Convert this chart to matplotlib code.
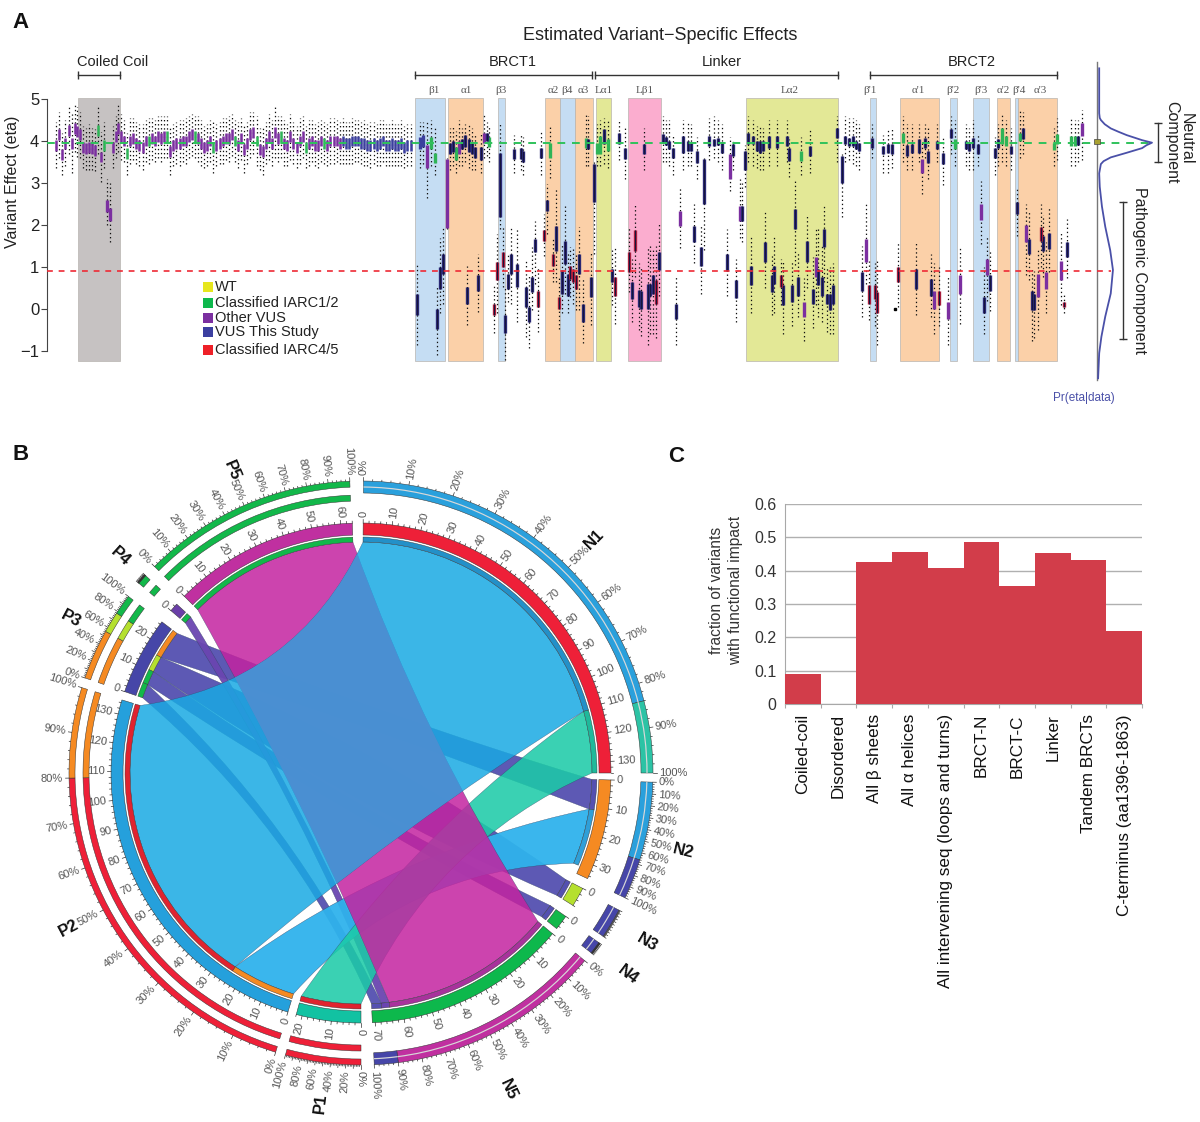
import numpy as np
import matplotlib
matplotlib.use("Agg")
import matplotlib.pyplot as plt
from matplotlib.patches import Wedge, PathPatch, Rectangle
from matplotlib.path import Path

plt.rcParams['font.family'] = ['Liberation Sans', 'DejaVu Sans']

W, H = 1200, 1122

# ---- panel A data: x is the position along the protein, read off in picture units
# (x, q3, q1, whisker hi, whisker lo, kind)
coil_x = [56, 59, 62, 65, 69, 72, 75, 77, 80, 83, 86, 89, 92, 95, 98, 101, 104, 113, 116, 118]
coil_mid = [3.9, 4.15, 3.68, 3.95, 4.25, 3.95, 4.3, 4.22, 4.15, 3.85, 3.82, 3.85, 3.82, 3.78, 4.25, 3.62, 3.9, 3.85, 4.1, 4.3]
coil_whisk = [.55, .55, .5, .55, .55, .7, .55, .6, .55, .5, .5, .55, .5, .5, .55, .6, .55, .5, .5, .55]
coil_kind = 'ppppppppppppppgpgppp'

neutral_mid = [4.1, 4.0, 3.7, 4.0, 4.05, 3.95, 3.9, 3.85, 4.0, 4.0, 4.05, 4.0, 4.1, 4.05, 4.1, 4.1, 3.75, 3.9, 3.95, 3.95,
               4.0, 4.0, 4.1, 4.15, 4.1, 4.05, 3.95, 3.85, 3.9, 4.0, 3.85, 3.9, 3.95, 4.0, 4.05, 4.05, 4.15, 4.0, 3.9, 4.05,
               3.8, 3.95, 4.15, 4.2, 4.0, 3.8, 3.75, 3.95, 4.1, 3.95, 4.2, 4.05, 4.1, 3.95, 3.9, 4.1, 3.95, 3.85, 4.0, 4.1,
               3.85, 3.95, 4.0, 3.9, 3.9, 4.0, 3.95, 3.9, 4.0, 4.0, 4.0, 3.95, 4.0, 3.95, 3.95, 4.0, 4.0, 4.0, 3.95, 3.95,
               3.9, 3.9, 3.95, 3.9, 3.95, 4.0, 3.9, 3.9, 3.95, 3.9, 3.9, 3.95, 3.85, 3.9, 3.9]
neutral_whisk = [.55, .5, .5, .55, .5, .5, .5, .55, .5, .55, .5, .5, .5, .55, .5, .5, .55, .5, .5, .55,
                 .5, .55, .5, .5, .5, .55, .55, .5, .5, .5, .6, .5, .5, .55, .5, .55, .5, .5, .55, .5,
                 .55, .5, .55, .5, .6, .5, .55, .5, .55, .55, .6, .55, .5, .55, .5, .55, .5, .5, .55, .5,
                 .5, .55, .5, .5, .55, .5, .5, .5, .55, .55, .5, .5, .55, .5, .5, .55, .5, .5, .5, .55,
                 .5, .55, .5, .5, .55, .5, .5, .5, .55, .5, .5, .55, .5, .5, .5]
neutral_green = [2, 9, 15, 24, 30, 37, 44, 52, 60, 66]
neutral_indigo_from = 72

brct1_boxes = [
    (107, 2.6, 2.3, 3.1, 2.0, 'p'), (109.5, 2.4, 2.1, 3.0, 1.6, 'p'),
    (417, .36, -.15, 1.1, -.86, 'n'), (420, 4.1, 3.8, 4.45, 3.35, 'b'), (423, 4.15, 3.85, 4.45, 3.45, 'b'),
    (427, 3.9, 3.35, 4.47, 2.65, 'p'), (431, 4.1, 3.8, 4.5, 3.4, 'g'), (435, 3.72, 3.48, 4.3, 3.2, 'g'),
    (437, 0, -.47, .52, -1.1, 'n'), (440, 1, .48, 1.7, -.1, 'n'), (443, 1.3, .84, 1.95, .13, 'n'),
    (446.6, 3.56, 1.94, 3.6, 1.9, 'p'), (450, 3.95, 3.7, 4.3, 3.3, 'n'), (453, 4.0, 3.75, 4.35, 3.4, 'n'),
    (456, 3.85, 3.55, 4.25, 3.25, 'g'), (459, 4.0, 3.7, 4.5, 3.4, 'p'), (462, 4.05, 3.8, 4.3, 3.4, 'n'),
    (465, 4.15, 3.85, 4.4, 3.5, 'n'), (467, .52, .13, 1.03, -.39, 'n'), (469, 4.05, 3.75, 4.4, 3.35, 'n'),
    (472, 3.95, 3.7, 4.3, 3.3, 'n'), (475, 3.85, 3.6, 4.2, 3.3, 'n'), (478, .8, .44, 1.3, -.07, 'n'),
    (481, 3.85, 3.55, 4.2, 3.25, 'n'), (484, 4.2, 3.95, 4.65, 3.6, 'p'), (487, 4.2, 4.0, 4.45, 3.65, 'n'),
    (489, 4.1, 3.85, 4.35, 3.5, 'g'),
    (494, .13, -.15, .6, -.58, 'r'), (497, 1.11, .68, 1.79, -.1, 'r'), (499.5, 3.72, 2.18, 4.45, 1.9, 'n'),
    (502.5, 1.35, 1.0, 1.95, .52, 'r'), (505, -.15, -.58, .52, -1.22, 'n'), (508, .84, .48, 1.3, .17, 'n'),
    (511, 1.31, .84, 1.95, .13, 'n'), (514, 3.8, 3.56, 4.15, 3.25, 'n'), (517, 1.07, .52, 1.9, -.3, 'n'),
    (520.5, 3.84, 3.56, 4.2, 3.3, 'n'), (523, 3.76, 3.5, 4.1, 3.2, 'n'), (526, .52, .05, 1.2, -.66, 'n'),
    (529, .05, -.3, .84, -.94, 'n'), (532, .76, .4, 1.47, -.03, 'n'), (534.5, 1.67, 1.35, 2.1, .6, 'n'),
    (537.7, .44, .05, 1, -.55, 'r'), (541, 3.84, 3.6, 4.25, 3.2, 'n'), (544, 1.87, 1.63, 2.26, 1.27, 'r'),
    (546.5, 2.6, 2.34, 2.97, 1.79, 'n'), (549.5, 3.96, 3.6, 4.35, 3.13, 'g'), (553, 1.31, 1.03, 1.7, .64, 'r'),
    (556, 1.98, 1.39, 2.85, .64, 'n'), (559, .28, 0, .76, -.47, 'r'), (562, .92, .36, 1.55, -.1, 'n'),
    (564.5, 1.63, 1.07, 2.46, .36, 'n'), (567.5, .84, .32, 1.39, -.1, 'n'), (570, 1.03, .72, 1.47, .28, 'r'),
    (573, .96, .64, 1.47, .13, 'r'), (576, .8, .48, 1.3, -.03, 'r'), (579, 1.31, .84, 1.95, -.03, 'n'),
    (582.5, .13, -.3, .76, -.8, 'n'), (585.5, 4.08, 3.84, 4.65, 3.4, 'g'), (588, 4.05, 3.8, 4.6, 3.4, 'n'),
    (591, .76, .28, 1.39, -.39, 'n'),
]
linker_boxes = [
    (594, 3.45, 2.54, 3.5, 1.3, 'n'), (597, 3.95, 3.7, 4.4, 3.4, 'g'),
    (600, 4.12, 3.68, 4.5, 3.4, 'g'), (603.6, 4.28, 3.92, 4.55, 3.45, 'n'), (607.5, 4.04, 3.76, 4.5, 3.35, 'g'),
    (612, .96, .64, 1.45, .1, 'n'), (615, .76, .32, 1.45, -.35, 'r'), (619, 4.2, 3.92, 4.5, 3.55, 'n'),
    (625, 3.84, 3.56, 4.3, 3.1, 'n'), (629, 1.35, .88, 1.95, .4, 'r'), (632, .64, .25, 1.2, -.3, 'n'),
    (635, 1.87, 1.39, 2.5, .76, 'r'), (638.6, .46, .05, 1.1, -.5, 'n'), (640.6, .44, 0, 1, -.65, 'n'),
    (643.7, 3.92, 3.68, 4.3, 3.3, 'n'), (647.6, .6, 0, 1.5, -.85, 'n'), (650, .6, .32, 1.5, -.6, 'n'),
    (653, .8, .36, 1.4, -.6, 'n'), (656, .68, .13, 1.5, -.7, 'r'), (659, 1.35, .92, 2.05, .3, 'n'),
    (663, 4.16, 3.96, 4.6, 3.5, 'n'), (666, 4.1, 3.9, 4.5, 3.5, 'n'), (669, 4.0, 3.8, 4.5, 3.4, 'n'), (673, 3.84, 3.6, 4.15, 3.2, 'n'),
    (676, .13, -.23, .76, -.85, 'n'), (679.5, 2.34, 1.98, 2.9, 1.45, 'p'), (683, 4.12, 3.72, 4.5, 3.3, 'n'),
    (688, 4, 3.76, 4.45, 3.4, 'n'), (691, 3.96, 3.76, 4.4, 3.4, 'n'), (694, 1.98, 1.59, 2.5, 1.1, 'n'),
    (697.4, 3.76, 3.48, 4.1, 3.1, 'n'), (700.5, 1.47, 1.03, 2.0, .35, 'n'), (703.6, 3.56, 2.5, 3.6, 1.4, 'n'),
    (708.7, 4.12, 3.88, 4.55, 3.55, 'n'), (713.7, 4.04, 3.88, 4.6, 3.6, 'n'), (718, 4.08, 3.9, 4.5, 3.5, 'n'),
    (722, 3.96, 3.72, 4.4, 3.3, 'n'), (727, 1.31, .9, 1.9, .3, 'n'), (730, 3.68, 3.09, 4.1, 2.8, 'p'),
    (733, 3.92, 3.64, 4.0, 3.3, 'n'), (736, .68, .27, 1.2, -.3, 'n'), (740, 2.46, 2.1, 3.1, 1.7, 'p'),
    (742, 2.46, 2.09, 3.0, 1.6, 'n'), (744.5, 3.76, 3.31, 3.9, 2.9, 'n'), (747.6, 4.2, 3.94, 4.6, 3.5, 'n'),
    (750.7, 1.03, .56, 1.75, -.1, 'n'), (753.4, 4.12, 3.92, 4.5, 3.4, 'n'), (757, 4, 3.76, 4.35, 3.35, 'n'),
    (760.4, 4, 3.72, 4.35, 3.3, 'n'), (763, 4, 3.76, 4.3, 3.3, 'n'), (765, 1.59, 1.11, 2.33, .5, 'n'),
    (769, 4.12, 3.84, 4.5, 3.4, 'n'), (771.7, .8, .4, 1.3, -.15, 'n'), (774, 1.03, .6, 1.75, -.1, 'n'),
    (777, 4.12, 3.84, 4.5, 3.4, 'n'), (780.7, .8, .52, 1.2, .1, 'r'), (783, .56, .09, 1.15, -.6, 'n'),
    (786.5, 4.12, 3.88, 4.5, 3.5, 'n'), (789, 3.84, 3.52, 4.05, 3.15, 'n'), (792, .56, .17, 1.15, -.4, 'n'),
    (795, 2.38, 1.9, 3.1, 1.05, 'n'), (798, .76, .32, 1.35, -.2, 'n'), (801, 3.76, 3.52, 4.1, 3.2, 'g'),
    (804, .17, -.2, .75, -.75, 'p'), (806.7, 1.63, 1.11, 2.25, .5, 'n'), (810, 3.88, 3.64, 4.3, 3.25, 'n'),
    (813, .48, .13, 1.25, -.45, 'n'), (815.7, 1.23, .76, 1.95, .1, 'p'), (818.4, .96, .56, 1.9, -.2, 'n'),
    (821.5, .76, .32, 1.5, -.3, 'n'), (824, 1.9, 1.47, 2.5, .65, 'n'), (827, .36, .13, 1.0, -.55, 'n'),
    (830, .36, -.03, 1, -.6, 'n'), (833, .56, .13, 1.1, -.6, 'n'), (837, 4.3, 4.08, 4.6, 3.5, 'n'),
    (842, 3.64, 3.01, 3.7, 2.2, 'n'), (845, 4.12, 3.92, 4.6, 3.5, 'n'), (849, 4.08, 3.88, 4.55, 3.55, 'n'),
    (852.7, 4.12, 3.88, 4.55, 3.45, 'n'), (855.8, 4, 3.8, 4.5, 3.4, 'n'), (859, 3.96, 3.76, 4.4, 3.3, 'n'),
]
brct2_boxes = [
    (862.4, .88, .44, 1.5, -.2, 'n'), (865.5, 1.67, 1.11, 2.5, .6, 'p'), (868.6, .56, .13, 1.15, -.25, 'r'),
    (871.7, 4.08, 3.84, 4.4, 3.6, 'n'), (875, .56, .25, 1.1, -.4, 'r'), (877, .4, -.1, 1.15, -.85, 'r'),
    (882.6, 3.88, 3.68, 4.15, 3.25, 'n'), (887.7, 3.92, 3.72, 4.3, 3.25, 'n'), (891.5, 3.92, 3.68, 4.3, 3.35, 'n'),
    (898, 1, .64, 1.6, .05, 'r'), (902.5, 4.2, 3.96, 4.6, 3.5, 'g'), (907, 3.9, 3.64, 4.4, 3.3, 'n'),
    (912, 3.92, 3.72, 4.4, 3.3, 'n'), (916, .96, .48, 1.6, -.15, 'n'), (919, 4.04, 3.72, 4.4, 3.5, 'n'),
    (922, 3.56, 3.25, 3.95, 2.75, 'p'), (925.4, 4.08, 3.84, 4.4, 3.6, 'n'), (927.7, 3.76, 3.48, 4.3, 3.1, 'n'),
    (931, .72, .32, 1.3, -.2, 'n'), (933.6, .44, 0, 1.1, -.6, 'p'), (937, 4, 3.8, 4.4, 3.5, 'n'),
    (939.4, .44, .09, 1, -.4, 'r'), (942.5, 3.72, 3.45, 4.1, 2.95, 'n'), (948, .17, -.23, .76, -.85, 'p'),
    (951, 4.28, 4.08, 4.6, 3.7, 'n'), (955, 4.04, 3.8, 4.5, 3.4, 'g'), (960.4, .8, .35, 1.5, -.35, 'p'),
    (965.5, 4, 3.8, 4.4, 3.4, 'n'), (969.4, 3.96, 3.76, 4.3, 3.3, 'n'), (973, 4.08, 3.84, 4.5, 3.3, 'n'),
    (978, 3.92, 3.68, 4.2, 3.4, 'n'), (981, 2.5, 2.12, 3.05, 1.55, 'p'), (984, .28, -.1, 1, -.6, 'n'),
    (987, 1.2, .8, 1.75, .2, 'p'), (990, .8, .44, 1.4, -.05, 'n'), (995, 3.84, 3.6, 4.1, 3.2, 'n'),
    (998, 4.04, 3.84, 4.4, 3.4, 'n'), (1001.7, 4.3, 3.92, 4.65, 3.5, 'g'), (1006, 4.12, 3.88, 4.5, 3.4, 'g'),
    (1011.4, 3.88, 3.68, 4.3, 3.3, 'n'), (1016.5, 2.54, 2.26, 2.85, 1.75, 'n'), (1020, 4.2, 4.0, 4.75, 3.6, 'g'),
    (1022.7, 4.3, 4.04, 4.7, 3.7, 'n'), (1025.8, 2, 1.6, 2.5, .8, 'p'), (1028.5, 1.67, 1.3, 2.3, .7, 'n'),
    (1032, .44, -.03, 1, -.75, 'n'), (1034.4, .36, -.03, .9, -.7, 'n'), (1037.5, .84, .28, 1.4, -.5, 'p'),
    (1040.6, 1.96, 1.63, 2.5, 1, 'r'), (1043, 1.75, 1.39, 2.25, .76, 'n'), (1046, .88, .48, 1.6, -.1, 'p'),
    (1049, 1.81, 1.43, 2.4, .88, 'n'), (1053.8, 3.96, 3.78, 4.3, 3.4, 'g'), (1057, 4.16, 3.92, 4.55, 3.55, 'g'),
    (1061, 1.15, .68, 1.8, .1, 'p'), (1063.5, .17, .05, .35, -.1, 'r'), (1067.4, 1.59, 1.23, 2.15, .75, 'n'),
    (1070.5, 4.12, 3.88, 4.55, 3.4, 'g'), (1074.5, 4.12, 3.88, 4.5, 3.4, 'g'), (1078, 4.12, 3.9, 4.5, 3.5, 'n'),
    (1081.5, 4.43, 4.12, 4.75, 3.55, 'p'),
]

region_names = ['', 'β1', 'α1', 'β3', 'α2', 'β4', 'α3', 'Lα1', 'Lβ1', 'Lα2', "β'1", "α'1", "β'2", "β'3", "α'2", "β'4", "α'3"]
region_start = [78, 415, 448, 497.5, 545, 560, 575, 596, 628, 746, 870, 900, 949.5, 973, 997, 1015, 1018]
region_end = [120, 445, 483, 504.5, 560, 575, 593, 611, 661, 838, 876, 939, 956.5, 989, 1009.5, 1018, 1056.5]
region_colors = ['#C6C2C2', '#C5DDF3', '#FBD0A8', '#C5DDF3', '#FBD0A8', '#C5DDF3', '#FBD0A8', '#E3E896', '#FBADCF',
                 '#E3E896', '#C5DDF3', '#FBD0A8', '#C5DDF3', '#C5DDF3', '#FBD0A8', '#C5DDF3', '#FBD0A8']
region_label_x = [0, 434, 466, 501, 553, 567, 583, 604, 645, 790, 870, 918, 953, 981, 1003, 1019, 1040]

domain_names = ['Coiled Coil', 'BRCT1', 'Linker', 'BRCT2']
domain_start = [78, 415, 595, 870]
domain_end = [120, 592, 838, 1057]
domain_label_x = [113, 513, 722, 972]

neutral_level = 3.95
pathogenic_level = 0.9

density_eta = [5.73, 4.66, 4.55, 4.5, 4.4, 4.30, 4.22, 4.14, 4.08, 4.02, 3.96, 3.9, 3.83, 3.72, 3.61, 3.52, 3.45, 3.23, 2.91, 2.44, 1.96, 1.40, 0.93, 0.37, -0.18, -0.66, -1.05, -1.65]
density_pr = [.04, .04, .05, .07, .14, .25, .39, .54, .68, .82, 1.0, .9, .82, .54, .25, .12, .07, .04, .05, .09, .15, .24, .29, .25, .15, .08, .04, .02]

legend_names = ['WT', 'Classified IARC1/2', 'Other VUS', 'VUS This Study', 'Classified IARC4/5']
legend_colors = ['#E6E61E', '#0DB84C', '#7B2FA0', '#3B3FA0', '#EE2028']
legend_y = [287, 303, 318, 332, 350]

# ---- panel B data: sector angles in degrees clockwise from the top
sector_names = ['N1', 'N2', 'N3', 'N4', 'N5', 'P1', 'P2', 'P3', 'P4', 'P5']
sector_start = [0.5, 91.6, 117.5, 125, 130, 180, 197, 289, 310.5, 315]
sector_end = [90, 115, 122, 128.5, 177.4, 195, 287, 307.2, 312.5, 358]
sector_fill = ['#EE2038', '#F58A22', '#B5E02E', '#12B84A', '#0DB84C', '#12C2A2', '#25A0DC', '#4646A8', '#6A3FA8', '#C030A0']
sector_max = [130, 30, 0, 0, 70, 20, 130, 20, 0, 60]
sector_units = [134, 35, 6, 5, 71, 22, 135, 27, 3, 64]
outer_start = [0.5, 91.8, 118, 125.5, 130, 180, 197, 289, 310.5, 315]
outer_end = [90, 115.3, 124, 128, 177.4, 195, 287, 307.2, 312.5, 357.8]
label_step = [10, 10, 0, 0, 10, 20, 10, 20, 0, 10]
name_theta = [45, 103.6, 120.6, 127, 155, 187, 242, 298, 312, 337]
name_r = [330, 332, 333, 335, 349, 333, 331, 329, 324, 329]

blue, indigo, teal, magenta, purple = '#3BB5E8', '#5450B0', '#3AD0B2', '#CC44A8', '#6A45B0'
red_s, orange_s, lime_s, green_s = '#E0232F', '#F58A22', '#B5E02E', '#12B84A'

# (sector A range, sector B range, ribbon colour, alpha, strip at A, strip at B)
link_n2_p3 = (91.6, 99, 300, 307.2, indigo, .95, indigo, orange_s)
link_n3_p3 = (117.5, 122, 296, 300, indigo, .95, indigo, lime_s)
link_n4_p3 = (125, 128.5, 292.5, 296, indigo, .95, indigo, green_s)
link_n5_p3 = (175, 177.4, 289, 292.5, indigo, .95, indigo, green_s)
link_n5_p4 = (173, 175, 310.5, 312.5, purple, .95, purple, green_s)
link_n2_p2 = (99, 113, 197, 213, '#2FB2EC', .95, '#2F9FD8', orange_s)
link_n1_p1 = (74.5, 90, 180, 195, '#1CCBA8', .87, '#1FB99B', red_s)
link_n5_p5 = (130, 173, 315, 358, '#C323A0', .85, '#A8329C', green_s)
link_n1_p2 = (0.5, 74.5, 213, 287, '#19A9E3', .85, '#2390C8', red_s)
links = [link_n2_p3, link_n3_p3, link_n4_p3, link_n5_p3, link_n5_p4, link_n2_p2, link_n1_p1, link_n5_p5, link_n1_p2]

# outer percent ring: (sector, from %, to %, colour)
outer_parts = [(0, 0, 84, '#2AA0DC'), (0, 84, 100, '#2CC3A5'), (1, 0, 66, '#2AA0DC'), (1, 66, 100, '#4646A8'),
               (2, 0, 100, '#4646A8'), (3, 0, 100, '#4646A8'), (4, 0, 90, '#C030A0'), (4, 90, 100, '#4646A8'),
               (5, 0, 100, '#EE2038'), (6, 0, 80, '#EE2038'), (6, 80, 100, '#F58A22'),
               (7, 0, 55, '#F58A22'), (7, 55, 78, '#B5E02E'), (7, 78, 100, '#12B84A'),
               (8, 0, 100, '#12B84A'), (9, 0, 100, '#12B84A')]

# ---- panel C data
c_names = ['Coiled-coil', 'Disordered', 'All β sheets', 'All α helices', 'All intervening seq (loops and turns)',
           'BRCT-N', 'BRCT-C', 'Linker', 'Tandem BRCTs', 'C-terminus (aa1396-1863)']
c_values = [0.091, 0, 0.427, 0.456, 0.408, 0.487, 0.354, 0.453, 0.432, 0.22]
c_ticks = [0, 0.1, 0.2, 0.3, 0.4, 0.5, 0.6]
c_ticklabels = ['0', '0.1', '0.2', '0.3', '0.4', '0.5', '0.6']


def px_rect(x0, y0, x1, y1):
    return [x0 / W, 1 - y1 / H, (x1 - x0) / W, (y1 - y0) / H]


fig = plt.figure(figsize=(W / 100, H / 100), dpi=100)

# ---- panel A
ax = fig.add_axes(px_rect(47, 50, 1200, 410))
ax.set_xlim(47, 1200)
ax.set_ylim((309 - 410) / 42, (309 - 50) / 42)
ax.patch.set_alpha(0)


def eta_y(py):
    return (309 - py) / 42


for s, e, c in zip(region_start, region_end, region_colors):
    ax.add_patch(Rectangle((s, eta_y(361)), e - s, eta_y(98) - eta_y(361), fc=c, ec='#B8B4B0', lw=0.5, zorder=1))
for name, x in zip(region_names, region_label_x):
    if name:
        ax.text(x, eta_y(90), name, family=['Liberation Serif', 'DejaVu Serif'], fontsize=8, color='#555555', ha='center', va='center')

for name, s, e, tx in zip(domain_names, domain_start, domain_end, domain_label_x):
    ax.plot([s, e], [eta_y(75)] * 2, color='#333333', lw=1, marker='|', ms=6, mew=1, clip_on=False)
    ax.text(tx, eta_y(62), name, fontsize=10.5, ha='center', va='center', color='#222222')

box_colors = {'p': '#7B2FA0', 'g': '#2FB457', 'b': '#3B3F9E', 'n': '#2C2A78', 'r': '#B01E3C'}

flat_rows = [(x, m + .13, m - .13, m + w, m - w, k) for x, m, w, k in zip(coil_x, coil_mid, coil_whisk, coil_kind)]
for i, (m, w) in enumerate(zip(neutral_mid, neutral_whisk)):
    k = 'g' if i in neutral_green else ('b' if i >= neutral_indigo_from else 'p')
    flat_rows.append((121 + i * 3.08, m + .13, m - .13, m + w, m - w, k))
site_rows = brct1_boxes + linker_boxes + brct2_boxes
rows = flat_rows + site_rows

ax.vlines([r[0] for r in rows], [r[4] for r in rows], [r[3] for r in rows], color='#111111', lw=0.9,
          linestyles=[(0, (1.1, 2.2))], zorder=2)
for k, c in box_colors.items():
    sel = [r for r in flat_rows if r[5] == k]
    ax.vlines([r[0] for r in sel], [r[2] for r in sel], [r[1] for r in sel], color=c, lw=1.8,
              capstyle='butt', zorder=3)
    sel = [r for r in site_rows if r[5] == k]
    ax.vlines([r[0] for r in sel], [r[2] for r in sel], [r[1] for r in sel], color=c, lw=2.4,
              capstyle='butt', zorder=3)
dark = [r for r in site_rows if r[5] in 'nr']
ax.vlines([r[0] for r in dark], [r[2] for r in dark], [r[1] for r in dark], color='#15153C', lw=0.8,
          capstyle='butt', zorder=4)
ax.plot([895.4], [0.0], 's', color='black', ms=1.8, zorder=4)

ax.plot([47, 1152], [neutral_level] * 2, color='#2FC25B', lw=1.4, ls=(0, (4, 3.5)), zorder=5)
ax.plot([47, 1111], [pathogenic_level] * 2, color='#EE2A35', lw=1.2, ls=(0, (3.5, 3.5)), zorder=5)

for spine in ['top', 'right', 'bottom']:
    ax.spines[spine].set_visible(False)
ax.spines['left'].set_bounds(-1, 5)
ax.spines['left'].set_color('#444444')
ax.spines['left'].set_linewidth(0.8)
ax.set_xticks([])
ax.set_yticks([-1, 0, 1, 2, 3, 4, 5])
ax.set_yticklabels(['−1', '0', '1', '2', '3', '4', '5'], fontsize=12, color='#222222')
ax.tick_params(axis='y', length=4, width=0.8, color='#444444', pad=1.5)

fig.text(13 / W, 1 - 182 / H, 'Variant Effect (eta)', rotation=90, fontsize=11.5, ha='center', va='center', color='#222222')
fig.text(660 / W, 1 - 36 / H, 'Estimated Variant−Specific Effects', fontsize=13, ha='center', va='center', color='#222222')

for name, c, y in zip(legend_names, legend_colors, legend_y):
    ax.add_patch(Rectangle((203, eta_y(y + 5)), 10, 10 / 42, fc=c, ec='none', zorder=6))
    ax.text(215, eta_y(y), name, fontsize=10.5, va='center', color='#222222')

# density on the right
ax_d = fig.add_axes(px_rect(1097, 50, 1152, 410))
ax_d.set_xlim(0, 1)
ax_d.set_ylim(ax.get_ylim())
ax_d.axis('off')
ax_d.plot(density_pr, density_eta, color='#4A50A8', lw=1.3, clip_on=False)
ax.plot([1097, 1097], [eta_y(62), eta_y(380)], color='#777777', lw=1)
ax.add_patch(Rectangle((1094, eta_y(144)), 6, 5 / 42, fc='#A8A030', ec='#444444', lw=0.5, zorder=6))
ax.plot([1158, 1158], [eta_y(123), eta_y(162)], color='#333333', lw=1, marker='_', ms=6)
ax.plot([1123, 1123], [eta_y(202), eta_y(339)], color='#333333', lw=1, marker='_', ms=6)
ax.text(1186, eta_y(139), 'Neutral', rotation=-90, fontsize=11.5, ha='center', va='center', color='#222222')
ax.text(1172, eta_y(142), 'Component', rotation=-90, fontsize=11.5, ha='center', va='center', color='#222222')
ax.text(1139, eta_y(270), 'Pathogenic Component', rotation=-90, fontsize=11.5, ha='center', va='center', color='#222222')
ax.text(1084, eta_y(398), 'Pr(eta|data)', fontsize=8.5, ha='center', va='center', color='#4A50A8', clip_on=False)

# ---- panel B
cx, cy = 361, 773
bx = fig.add_axes(px_rect(0, 440, 710, 1122))
bx.set_xlim(-cx, 710 - cx)
bx.set_ylim(cy - 1122, cy - 440)
bx.axis('off')
bx.patch.set_alpha(0)

R_CHORD = 231


def polar(r, theta):
    t = np.radians(theta)
    return r * np.sin(t), r * np.cos(t)


def ring(r_out, r_in, a, b, color, z=4, ec='#333333', lw=0.35):
    bx.add_patch(Wedge((0, 0), r_out, 90 - b, 90 - a, width=r_out - r_in, fc=color, ec=ec, lw=lw, zorder=z))


def arc_points(a, b, r=R_CHORD):
    return [polar(r, t) for t in np.linspace(a, b, 40)]


def control(a, b):
    diff = abs(a - b) % 360
    if diff > 180:
        mid = (a + b) / 2 + 180
        diff = 360 - diff
    else:
        mid = (a + b) / 2
    return polar(30 + 100 * np.cos(np.radians(diff / 2)), mid)


def ribbon_path(a1, a2, b1, b2):
    verts = list(arc_points(a1, a2))
    codes = [Path.MOVETO] + [Path.LINETO] * (len(verts) - 1)
    verts += [control(a2, b1), polar(R_CHORD, b1)]
    codes += [Path.CURVE3, Path.CURVE3]
    arc2 = arc_points(b1, b2)[1:]
    verts += arc2
    codes += [Path.LINETO] * len(arc2)
    verts += [control(b2, a1), polar(R_CHORD, a1)]
    codes += [Path.CURVE3, Path.CURVE3]
    return Path(verts, codes)


patches = {}
for i, (a1, a2, b1, b2, color, alpha, sa, sb) in enumerate(links):
    p = PathPatch(ribbon_path(a1, a2, b1, b2), fc=color, alpha=alpha, ec='#334466', lw=0.25, zorder=2 + i * 0.01)
    bx.add_patch(p)
    patches[i] = p
    ring(236, 231, a1, a2, sa, z=3, lw=0.3)
    ring(236, 231, b1, b2, sb, z=3, lw=0.3)

# blue over magenta keeps its own mid blue in the reference
overlap = PathPatch(ribbon_path(*link_n5_p5[:4]), fc='#4C8FD2', ec='none', alpha=0.92, zorder=2.5)
bx.add_patch(overlap)
overlap.set_clip_path(patches[8])

for i, name in enumerate(sector_names):
    s, e = sector_start[i], sector_end[i]
    ring(250, 238, s, e, sector_fill[i])
    per_unit = (e - s) / sector_units[i]
    for v in range(0, sector_units[i] + 1, 2):
        t = s + v * per_unit
        major = v % 10 == 0
        x0, y0 = polar(250, t)
        x1, y1 = polar(253.5 if major else 252, t)
        bx.plot([x0, x1], [y0, y1], color='#333333', lw=0.5, zorder=4)
    for v in range(0, sector_max[i] + 1, 10):
        t = s + v * per_unit
        x, y = polar(256, t)
        right = t <= 180
        bx.text(x, y, str(v), fontsize=8, color='#555555', rotation=(90 - t) if right else (270 - t),
                rotation_mode='anchor', ha='left' if right else 'right', va='center')

    os_, oe = outer_start[i], outer_end[i]
    span = oe - os_
    for v in range(0, 101, 2):
        t = os_ + v / 100 * span
        major = v % 10 == 0
        x0, y0 = polar(292, t)
        x1, y1 = polar(295.5 if major else 293.5, t)
        bx.plot([x0, x1], [y0, y1], color='#333333', lw=0.5, zorder=4)
    step = label_step[i]
    if step:
        for v in range(0, 101, step):
            t = os_ + v / 100 * span
            x, y = polar(298, t)
            right = t <= 180
            bx.text(x, y, f'{v}%', fontsize=8, color='#555555', rotation=(90 - t) if right else (270 - t),
                    rotation_mode='anchor', ha='left' if right else 'right', va='center')
    x, y = polar(name_r[i], name_theta[i])
    t = name_theta[i]
    bx.text(x, y, name, fontsize=12, fontweight='bold', color='#111111', rotation=(90 - t) if t <= 180 else (270 - t),
            rotation_mode='anchor', ha='center', va='center')

for sec, f0, f1, color in outer_parts:
    a = outer_start[sec] + f0 / 100 * (outer_end[sec] - outer_start[sec])
    b = outer_start[sec] + f1 / 100 * (outer_end[sec] - outer_start[sec])
    if sector_names[sec].startswith('N'):
        ring(292, 280, a, b, color)
        ring(286.6, 285.4, a, b, '#D8D8D8', z=5, ec='none', lw=0)
    else:
        ring(292, 286, a, b, color)
        ring(278, 272, a, b, color)

# ---- panel C
cax = fig.add_axes(px_rect(785, 504, 1142, 704))
cax.set_xlim(0, 10)
cax.set_ylim(0, 0.6)
cax.yaxis.grid(True, color='#B0B0B0', lw=1)
cax.set_axisbelow(True)
cax.bar(np.arange(10) + 0.5, c_values, width=1, color='#D23D4A', linewidth=0, zorder=3)
for sp in ['top', 'right']:
    cax.spines[sp].set_visible(False)
for sp in ['left', 'bottom']:
    cax.spines[sp].set_color('#A8A8A8')
cax.set_yticks(c_ticks)
cax.set_yticklabels(c_ticklabels, fontsize=11.5, color='#333333')
cax.tick_params(axis='y', length=0, pad=6)
cax.set_xticks(np.arange(11))
cax.set_xticklabels([])
cax.tick_params(axis='x', length=3, color='#A8A8A8')
for i, name in enumerate(c_names):
    cax.text(i + 0.5, -0.03, name, rotation=90, ha='center', va='top', fontsize=12.3, color='#111111', clip_on=False)
fig.text(726 / W, 1 - 590 / H, 'fraction of variants\nwith functional impact', rotation=90, fontsize=11.2,
         ha='center', va='center', ma='center', color='#333333', linespacing=1.3)

# panel letters
fig.text(12 / W, 1 - 22 / H, 'A', fontsize=16, fontweight='bold', va='center', color='#111111')
fig.text(12 / W, 1 - 455 / H, 'B', fontsize=16, fontweight='bold', va='center', color='#111111')
fig.text(668 / W, 1 - 456 / H, 'C', fontsize=16, fontweight='bold', va='center', color='#111111')

fig.savefig('out.png', dpi=100)
